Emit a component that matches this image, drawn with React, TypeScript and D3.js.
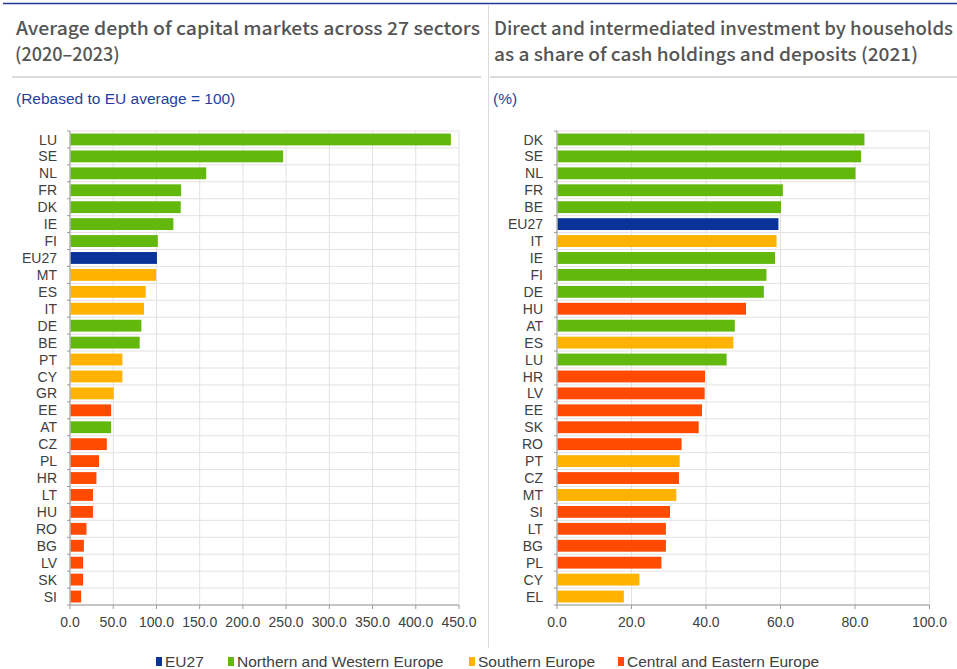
import React from "react";
import * as d3 from "d3";

// group codes: E = EU27, N = Northern and Western, S = Southern, C = Central and Eastern
const leftCountries = ["LU", "SE", "NL", "FR", "DK", "IE", "FI", "EU27", "MT", "ES", "IT", "DE", "BE", "PT", "CY", "GR", "EE", "AT", "CZ", "PL", "HR", "LT", "HU", "RO", "BG", "LV", "SK", "SI"];
const leftValues = [440, 246, 157, 128, 127.5, 119, 101, 100, 99, 87, 85, 82, 80, 60, 60, 50, 47, 47, 42, 33, 30, 26, 26, 18.5, 15.5, 14.6, 14.6, 12.3];
const leftGroups = ["N", "N", "N", "N", "N", "N", "N", "E", "S", "S", "S", "N", "N", "S", "S", "S", "C", "N", "C", "C", "C", "C", "C", "C", "C", "C", "C", "C"];
const leftTicks = [0, 50, 100, 150, 200, 250, 300, 350, 400, 450];

const rightCountries = ["DK", "SE", "NL", "FR", "BE", "EU27", "IT", "IE", "FI", "DE", "HU", "AT", "ES", "LU", "HR", "LV", "EE", "SK", "RO", "PT", "CZ", "MT", "SI", "LT", "BG", "PL", "CY", "EL"];
const rightValues = [82.4, 81.5, 80.0, 60.5, 60.0, 59.3, 58.8, 58.4, 56.1, 55.4, 50.6, 47.6, 47.2, 45.4, 39.6, 39.5, 38.8, 37.9, 33.3, 32.8, 32.6, 31.9, 30.2, 29.1, 29.1, 27.9, 22.0, 17.8];
const rightGroups = ["N", "N", "N", "N", "N", "E", "S", "N", "N", "N", "C", "N", "S", "N", "C", "C", "C", "C", "C", "S", "C", "S", "C", "C", "C", "C", "S", "S"];
const rightTicks = [0, 20, 40, 60, 80, 100];

const groupKeys = ["E", "N", "S", "C"];
const groupNames = ["EU27", "Northern and Western Europe", "Southern Europe", "Central and Eastern Europe"];

const colors: Record<string, string> = {
  E: "#0a3399",
  N: "#62b80c",
  S: "#ffb300",
  C: "#ff4a00",
};

const AXIS_FONT = "'Liberation Sans', Arial, sans-serif";
const TITLE_FONT = "'Noto Sans CJK JP', 'Noto Sans', sans-serif";

type PanelProps = {
  countries: string[];
  values: number[];
  groups: string[];
  ticks: number[];
  domainMax: number;
  x0: number;
  x1: number;
  labelX: number;
};

function Panel({ countries, values, groups, ticks, domainMax, x0, x1, labelX }: PanelProps) {
  const top = 131;
  const bottom = 605;
  const x = d3.scaleLinear().domain([0, domainMax]).range([x0, x1]);
  const y = d3
    .scaleBand<string>()
    .domain(countries)
    .range([top, bottom])
    .paddingInner(0.3)
    .paddingOuter(0.15);
  const step = y.step();
  const boundaries = d3.range(countries.length + 1).map(i => top + i * step);

  return (
    <g>
      {/* grid */}
      {boundaries.map((b, i) => (
        <line key={"h" + i} x1={x0} x2={x1} y1={b} y2={b} stroke="#e2e2e2" strokeWidth={1} />
      ))}
      {ticks.map((t, i) => (
        <line key={"v" + i} x1={x(t)} x2={x(t)} y1={top} y2={bottom} stroke="#e2e2e2" strokeWidth={1} />
      ))}

      {/* bars */}
      {countries.map((c, i) => (
        <rect
          key={c}
          x={x(0) + 0.5}
          y={y(c)}
          width={x(values[i]) - x(0)}
          height={y.bandwidth()}
          fill={colors[groups[i]]}
        />
      ))}

      {/* y axis */}
      <line x1={x0} x2={x0} y1={top} y2={bottom} stroke="#9a9a9a" />
      {boundaries.map((b, i) => (
        <line key={"yt" + i} x1={x0 - 3} x2={x0} y1={b} y2={b} stroke="#9a9a9a" />
      ))}
      {countries.map(c => (
        <text
          key={"l" + c}
          x={labelX}
          y={(y(c) as number) + y.bandwidth() / 2}
          dy="0.36em"
          textAnchor="end"
          fontSize={14}
          fontFamily={AXIS_FONT}
          fill="#404040"
        >
          {c}
        </text>
      ))}

      {/* x axis */}
      <line x1={x0} x2={x1} y1={bottom} y2={bottom} stroke="#9a9a9a" />
      {ticks.map((t, i) => (
        <g key={"xt" + i}>
          <line x1={x(t)} x2={x(t)} y1={bottom} y2={bottom + 4} stroke="#9a9a9a" />
          <text
            x={x(t)}
            y={627}
            textAnchor="middle"
            fontSize={14}
            fontFamily={AXIS_FONT}
            fill="#404040"
          >
            {d3.format(".1f")(t)}
          </text>
        </g>
      ))}
    </g>
  );
}

export default function App() {
  const W = 957;
  const H = 669;
  const legendX = [156, 228, 469, 618];

  return (
    <svg width={W} height={H} style={{ position: "absolute", left: 0, top: 0, background: "#fff" }}>
      <rect width={W} height={H} fill="#fff" />
      {/* frame lines */}
      <line x1={3} x2={W} y1={3.5} y2={3.5} stroke="#1f3a93" strokeWidth={1.5} />
      <line x1={12} x2={481} y1={77} y2={77} stroke="#d0d0d0" strokeWidth={1.5} />
      <line x1={490} x2={W} y1={77} y2={77} stroke="#d0d0d0" strokeWidth={1.5} />
      <line x1={488.5} x2={488.5} y1={5} y2={648} stroke="#dcdcdc" strokeWidth={1} />

      {/* titles */}
      <g fontFamily={TITLE_FONT} fontSize={18} fontWeight={500} fill="#555">
        <text x={16} y={35} textLength={464} lengthAdjust="spacingAndGlyphs">
          Average depth of capital markets across 27 sectors
        </text>
        <text x={15} y={61}>(2020–2023)</text>
        <text x={494} y={35} textLength={459} lengthAdjust="spacingAndGlyphs">
          Direct and intermediated investment by households
        </text>
        <text x={494} y={61} textLength={424} lengthAdjust="spacingAndGlyphs">
          as a share of cash holdings and deposits (2021)
        </text>
      </g>
      <g fontFamily={AXIS_FONT} fontSize={15.5} fill="#1f3fa0">
        <text x={16} y={104}>(Rebased to EU average = 100)</text>
        <text x={493} y={104}>(%)</text>
      </g>

      <Panel
        countries={leftCountries}
        values={leftValues}
        groups={leftGroups}
        ticks={leftTicks}
        domainMax={450}
        x0={70}
        x1={459}
        labelX={57}
      />
      <Panel
        countries={rightCountries}
        values={rightValues}
        groups={rightGroups}
        ticks={rightTicks}
        domainMax={100}
        x0={557}
        x1={929.5}
        labelX={543}
      />

      {/* legend */}
      {groupKeys.map((k, i) => (
        <g key={k} transform={`translate(${legendX[i]},0)`}>
          <rect x={0} y={657} width={6} height={9} fill={colors[k]} />
          <text x={9} y={667} fontSize={15.5} fontFamily={AXIS_FONT} fill="#404040">
            {groupNames[i]}
          </text>
        </g>
      ))}
    </svg>
  );
}
